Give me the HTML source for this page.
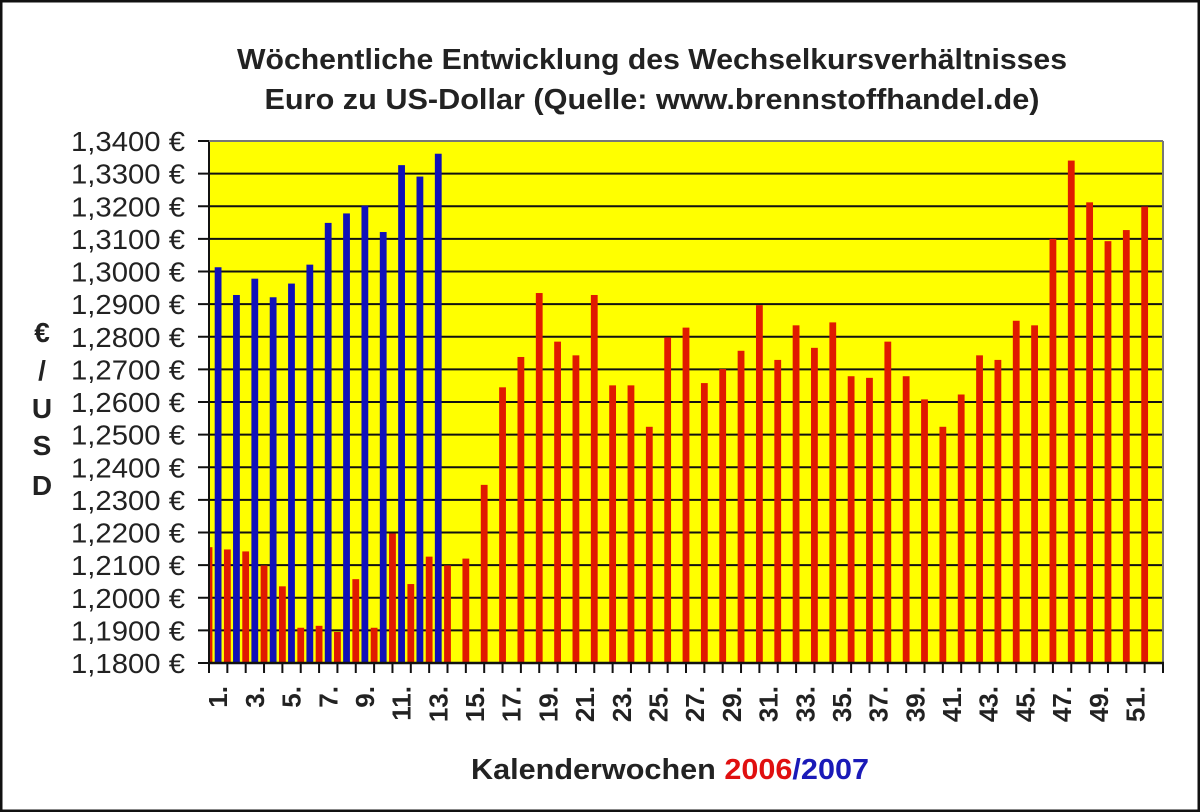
<!DOCTYPE html>
<html><head><meta charset="utf-8"><style>
html,body{margin:0;padding:0;background:#fff;}
svg{display:block;font-family:"Liberation Sans",Arial,sans-serif;}
</style></head><body>
<svg id="chart" width="1200" height="812" viewBox="0 0 1200 812" xmlns="http://www.w3.org/2000/svg">
<rect x="1" y="1" width="1198" height="810" fill="#fff" stroke="#111" stroke-width="3"/>
<text x="652" y="69" text-anchor="middle" font-size="29" font-weight="bold" fill="#222" textLength="830" lengthAdjust="spacingAndGlyphs">Wöchentliche Entwicklung des Wechselkursverhältnisses</text>
<text x="652" y="109" text-anchor="middle" font-size="29" font-weight="bold" fill="#222" textLength="775" lengthAdjust="spacingAndGlyphs">Euro zu US-Dollar (Quelle: www.brennstoffhandel.de)</text>
<rect x="209" y="141" width="954" height="522" fill="#ffff00"/>
<g id="grid"></g>
<defs><clipPath id="pc"><rect x="209" y="130" width="954" height="533"/></clipPath></defs>
<g id="bars" clip-path="url(#pc)"></g>
<g id="axes"></g>
<g font-size="28" font-weight="bold" fill="#222" text-anchor="middle">
<text x="42" y="342">€</text><text x="42" y="380">/</text><text x="42" y="418">U</text><text x="42" y="455">S</text><text x="42" y="495">D</text>
</g>
<text x="670" y="779" text-anchor="middle" font-size="29" font-weight="bold" fill="#222" textLength="398" lengthAdjust="spacingAndGlyphs">Kalenderwochen <tspan fill="#e01010">2006</tspan><tspan fill="#1a1ab8">/2007</tspan></text>
</svg>
<script>
const weeks = Array.from({length:52},(_,i)=>i+1);
const rates2006 = [1.2155,1.2148,1.2142,1.2099,1.2035,1.1908,1.1914,1.1895,1.2057,1.1908,1.2197,1.2042,1.2126,1.2099,1.2120,1.2346,1.2645,1.2738,1.2934,1.2785,1.2743,1.2928,1.2651,1.2651,1.2524,1.2798,1.2828,1.2658,1.2701,1.2757,1.2897,1.2729,1.2835,1.2766,1.2844,1.2679,1.2674,1.2785,1.2679,1.2608,1.2524,1.2623,1.2743,1.2729,1.2849,1.2835,1.3100,1.3340,1.3212,1.3093,1.3127,1.3199];
const rates2007 = [1.3013,1.2928,1.2978,1.2921,1.2963,1.3021,1.3149,1.3178,1.3202,1.3121,1.3326,1.3291,1.3361];
const yTicks = [1.18,1.19,1.20,1.21,1.22,1.23,1.24,1.25,1.26,1.27,1.28,1.29,1.30,1.31,1.32,1.33,1.34];
const yMin=1.18,yMax=1.34,X0=209,X1=1163,Y0=663,Y1=141;
const slot=(X1-X0)/weeks.length;
const yS=v=>Y0-(v-yMin)/(yMax-yMin)*(Y0-Y1);
const xS=i=>X0+i*slot;
const NS='http://www.w3.org/2000/svg';
function mk(tag,attrs,parent){const e=document.createElementNS(NS,tag);for(const k in attrs)e.setAttribute(k,attrs[k]);parent.appendChild(e);return e;}
const grid=document.getElementById('grid'),bars=document.getElementById('bars'),axes=document.getElementById('axes');
yTicks.forEach(t=>{
  const y=yS(t);
  const l=mk('line',{x1:X0,x2:X1,y1:y,y2:y,stroke:'#111','stroke-width':2},grid);
  
  
  mk('line',{x1:198,x2:X0,y1:y,y2:y,stroke:'#111','stroke-width':2},axes);
  const tx=mk('text',{x:185,y:y+10,'text-anchor':'end','font-size':28,fill:'#222',textLength:114,lengthAdjust:'spacingAndGlyphs'},axes);
  tx.textContent=t.toFixed(4).replace('.',',')+' €';
  
  
});
rates2006.forEach((v,i)=>{
  const y=yS(v);
  const r=mk('rect',{x:xS(i)-3.4,y:y,width:6.8,height:Y0-y,fill:'#e01a00'},bars);
  
  
});
rates2007.forEach((v,i)=>{
  const y=yS(v);
  const r=mk('rect',{x:xS(i)+5.7,y:y,width:6.8,height:Y0-y,fill:'#1010b8'},bars);
  
  
});
mk('line',{x1:X0,x2:X0,y1:Y1,y2:Y0+1,stroke:'#111','stroke-width':2},axes);
mk('line',{x1:X0,x2:X1,y1:Y1,y2:Y1,stroke:'#777','stroke-width':2},axes);
mk('line',{x1:X1,x2:X1,y1:Y1,y2:Y0,stroke:'#777','stroke-width':2},axes);
mk('line',{x1:X0-1,x2:X1+1,y1:Y0,y2:Y0,stroke:'#111','stroke-width':2.5},axes);
weeks.forEach((w,i)=>{
  mk('line',{x1:xS(i),x2:xS(i),y1:Y0,y2:Y0+10,stroke:'#111','stroke-width':2},axes);
  if(w%2===1){
    const cx=xS(i)+slot/2;
    const t=mk('text',{transform:`translate(${cx+9},686) rotate(-90)`,'text-anchor':'end','font-size':26,'font-weight':'bold',fill:'#222'},axes);
    t.textContent=w+'.';
    
    
  }
});
mk('line',{x1:X1,x2:X1,y1:Y0,y2:Y0+10,stroke:'#111','stroke-width':2},axes);
</script>
</body></html>
